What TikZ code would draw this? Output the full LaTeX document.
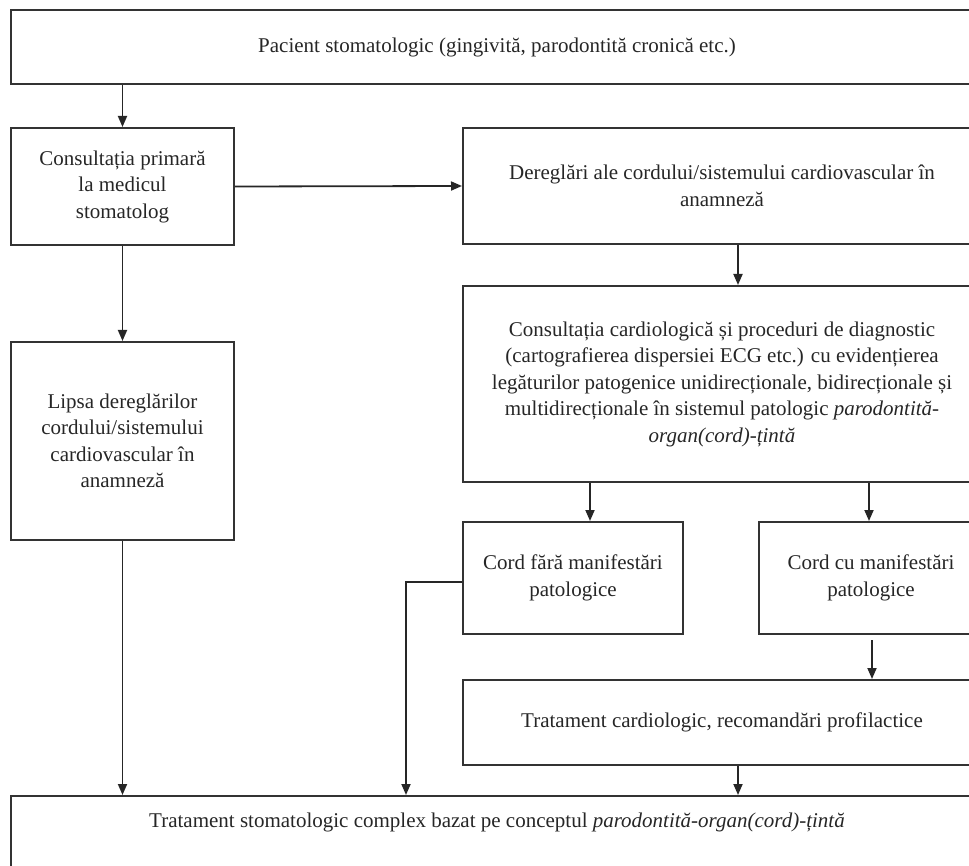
\documentclass[tikz,border=0pt]{standalone}
\usepackage{fontspec}
\setmainfont{Liberation Serif}
\usetikzlibrary{arrows.meta, positioning}

\begin{document}
\begin{tikzpicture}[
  x=1pt, y=-1pt,
  box/.style={
    rectangle, draw=black!80, line width=2pt, align=center,
    anchor=north west, inner sep=0pt,
    font=\fontsize{21}{26.5}\selectfont, text=black!85
  },
  arr/.style={-{Triangle[length=11pt,width=9pt]}, line width=1.8pt, draw=black!85}
]
  \useasboundingbox (0,0) rectangle (969,866);

  % Nodes
  \node[box, minimum width=972pt, minimum height=74pt]  at (10,9)   (pacient)
    {Pacient stomatologic (gingivită, parodontită cronică etc.)};
  \node[box, minimum width=223pt, minimum height=117pt] at (10,127) (primara)
    {Consultația primară\\la medicul\\stomatolog};
  \node[box, minimum width=518pt, minimum height=116pt] at (462,127) (dereglari)
    {Dereglări ale cordului/sistemului cardiovascular în\\anamneză};
  \node[box, minimum width=518pt, minimum height=196pt, below=40pt of dereglari.south west, anchor=north west] (cardio)
    {Consultația cardiologică și proceduri de diagnostic\\
     (cartografierea dispersiei ECG etc.) cu evidențierea\\
     legăturilor patogenice unidirecționale, bidirecționale și\\
     multidirecționale în sistemul patologic \textit{parodontită-}\\
     \textit{organ(cord)-țintă}};
  \node[box, minimum width=223pt, minimum height=198pt, below=95pt of primara.south west, anchor=north west] (lipsa)
    {Lipsa dereglărilor\\cordului/sistemului\\cardiovascular în\\anamneză};
  \node[box, minimum width=220pt, minimum height=112pt, below=38pt of cardio.south west, anchor=north west] (fara)
    {Cord fără manifestări\\patologice};
  \node[box, minimum width=224pt, minimum height=112pt, right=74pt of fara.north east, anchor=north west] (cu)
    {Cord cu manifestări\\patologice};
  \node[box, minimum width=518pt, minimum height=85pt, below=44pt of fara.south west, anchor=north west] (tratcard)
    {Tratament cardiologic, recomandări profilactice};
  \node[box, minimum width=972pt, text height=31pt, text depth=60pt] at (10,795) (final)
    {Tratament stomatologic complex bazat pe conceptul \textit{parodontită-organ(cord)-țintă}};
  \coordinate (cot) at ([xshift=-56pt,yshift=-4pt]fara.west);

  % Arrows
  \draw[arr] (primara.north |- pacient.south) -- (primara.north);
  \draw[arr] (primara.east) -- (dereglari.west);
  \draw[arr] ([xshift=16pt]dereglari.south) -- ([xshift=16pt]dereglari.south |- cardio.north);
  \draw[arr] (primara.south) -- (lipsa.north);
  \draw[arr] ([xshift=17pt]fara.north |- cardio.south) -- ([xshift=17pt]fara.north);
  \draw[arr] ([xshift=-2pt]cu.north |- cardio.south) -- ([xshift=-2pt]cu.north);
  \draw[arr, shorten <=5pt] ([xshift=1pt]cu.south) -- ([xshift=1pt]cu.south |- tratcard.north);
  \draw[arr] ([xshift=16pt]tratcard.south) -- ([xshift=16pt]tratcard.south |- final.north);
  \draw[arr] (lipsa.south) -- (lipsa.south |- final.north);
  \draw[arr] (fara.west |- cot) -- (cot) -- (cot |- final.north);
\end{tikzpicture}
\end{document}
